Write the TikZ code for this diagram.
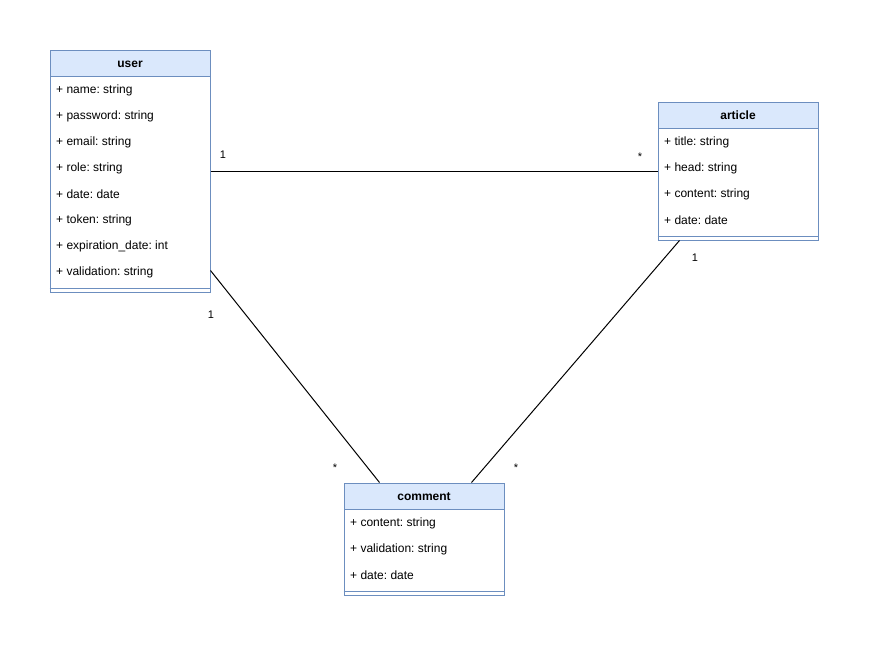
\documentclass[tikz,border=0pt]{standalone}
\usepackage{fontspec}
\setmainfont{Liberation Sans}
\usetikzlibrary{calc}
\definecolor{hdrfill}{HTML}{DAE8FC}
\definecolor{hdrline}{HTML}{6C8EBF}
\frenchspacing
\begin{document}
\begin{tikzpicture}[x=1pt,y=-1pt,
  classbox/.style={draw=hdrline, line width=1pt, fill=white, minimum width=160pt, inner sep=0pt, rectangle},
  classhead/.style={draw=hdrline, line width=1pt, fill=hdrfill, minimum width=160pt, minimum height=26pt, inner sep=0pt, anchor=north west, text height=9pt, text depth=-3pt, font=\fontsize{12}{14}\selectfont\bfseries\frenchspacing},
  attr/.style={anchor=west, inner sep=0pt, yshift=-1.5pt, font=\fontsize{12}{14}\selectfont\frenchspacing},
  sep/.style={draw=hdrline, line width=1pt},
  assoc/.style={draw=black, line width=1pt},
  mult/.style={inner sep=0pt, font=\fontsize{11}{13}\selectfont}
]
\useasboundingbox (0,0) rectangle (869,646);
\fill[white] (0,0) rectangle (869,646);

% user
\node[classbox, minimum height=242pt] (user) at (130,171) {};
\node[classhead] (userh) at (user.north west) {user};
\node[attr] (u1) at (56,89) {+ name: string};
\node[attr] (u2) at (56,115) {+ password: string};
\node[attr] (u3) at (56,141) {+ email: string};
\node[attr] (u4) at (56,167) {+ role: string};
\node[attr] (u5) at (56,193) {+ date: date};
\node[attr] (u6) at (56,219) {+ token: string};
\node[attr] (u7) at (56,245) {+ expiration\_date: int};
\node[attr] (u8) at (56,271) {+ validation: string};
\draw[sep] ($(user.south west)+(0,-4)$) -- ($(user.south east)+(0,-4)$);

% article
\node[classbox, minimum height=138pt] (article) at (738,171) {};
\node[classhead] (articleh) at (article.north west) {article};
\node[attr] (a1) at (664,141) {+ title: string};
\node[attr] (a2) at (664,167) {+ head: string};
\node[attr] (a3) at (664,193) {+ content: string};
\node[attr] (a4) at (664,219) {+ date: date};
\draw[sep] ($(article.south west)+(0,-4)$) -- ($(article.south east)+(0,-4)$);

% comment
\node[classbox, minimum height=112pt] (comment) at (424,539) {};
\node[classhead] (commenth) at (comment.north west) {comment};
\node[attr] (c1) at (350,522) {+ content: string};
\node[attr] (c2) at (350,548) {+ validation: string};
\node[attr] (c3) at (350,574) {+ date: date};
\draw[sep] ($(comment.south west)+(0,-4)$) -- ($(comment.south east)+(0,-4)$);

% connection points
\coordinate (ucs) at ($(user.south east)+(0,-22)$);
\coordinate (cut) at ($(comment.north west)+(36,0)$);
\coordinate (acs) at ($(article.south west)+(22,0)$);
\coordinate (cat) at ($(comment.north west)+(128,0)$);

\draw[assoc] (user.east) -- (article.west);
\draw[assoc] (ucs) -- (cut);
\draw[assoc] (acs) -- (cat);

% multiplicities
\node[mult] (m1) at (223,155) {1};
\node[mult] (m2) at (640,157) {*};
\node[mult] (m3) at (211,315) {1};
\node[mult] (m4) at (335,468) {*};
\node[mult] (m5) at (695,258) {1};
\node[mult] (m6) at (516,468) {*};
\end{tikzpicture}
\end{document}
